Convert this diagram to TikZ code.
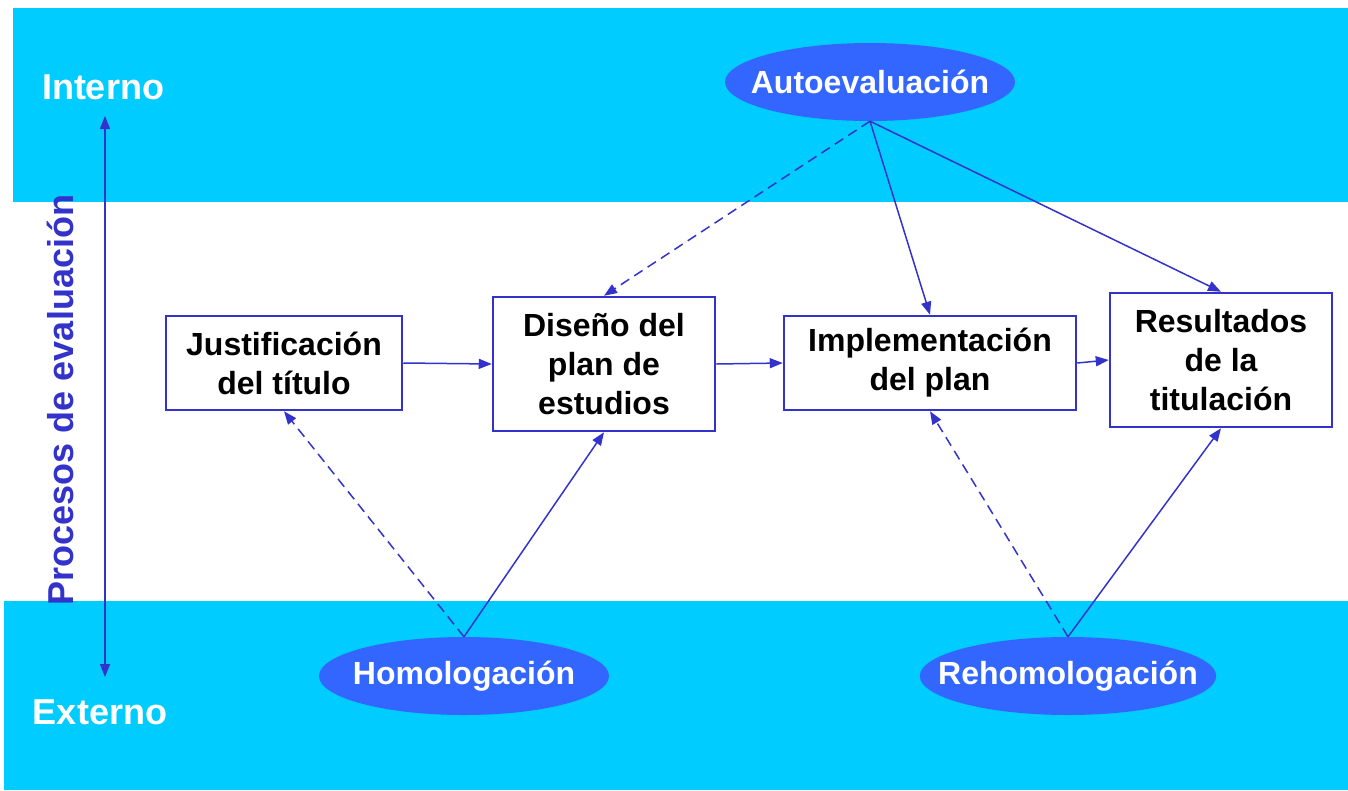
\documentclass[tikz,border=0pt]{standalone}
\usepackage{fontspec}
\setmainfont{Liberation Sans}
\usetikzlibrary{shapes.geometric,arrows.meta}
\definecolor{cielo}{RGB}{0,204,255}
\definecolor{azulelipse}{RGB}{51,102,255}
\definecolor{azullinea}{RGB}{51,51,204}
\tikzset{
  caja/.style={draw=azullinea,line width=2.5pt,fill=white,align=center,inner sep=0pt,
    font=\fontsize{32}{39}\selectfont\bfseries},
  proceso/.style={ellipse,fill=azulelipse,text=white,inner xsep=-25pt,inner ysep=0pt,
    minimum width=290pt,minimum height=78pt,font=\fontsize{32}{38}\selectfont\bfseries},
  flecha/.style={azullinea,line width=1.5pt,-{Triangle[length=13pt,width=10pt]}},
  discontinua/.style={flecha,dash pattern=on 10pt off 6pt},
  etiqueta/.style={text=white,font=\fontsize{36}{40}\selectfont\bfseries}
}
\begin{document}
\begin{tikzpicture}[x=1pt,y=-1pt]
      \useasboundingbox (0,0) rectangle (1348,790);
      % bandas
      \fill [cielo] (13,8) rectangle (1348,202);
      \fill [cielo] (4,601) rectangle (1348,790);
      % eje de la izquierda
      \node [etiqueta] (interno) at (103,87) {Interno};
      \node [etiqueta] (externo) at (100,712) {Externo};
      \coordinate (arriba) at (105,116);
      \coordinate (abajo) at (105,677);
      \draw [flecha,{Triangle[length=13pt,width=10pt]}-{Triangle[length=13pt,width=10pt]}] (arriba) -- (abajo);
      \node [rotate=90,text=azullinea,font=\fontsize{36}{40}\selectfont\bfseries] (procesos) at (60,400) {Procesos de evaluación};
      % cajas
      \node [caja,minimum width=236pt,minimum height=94pt] (justificacion) at (284,363) {Justificación\\del título};
      \node [caja,minimum width=222pt,minimum height=134pt] (diseno) at (604,364) {Diseño del\\plan de\\estudios};
      \node [caja,minimum width=292pt,minimum height=94pt] (implementacion) at (930,363) {Implementación\\del plan};
      \node [caja,minimum width=222pt,minimum height=134pt] (resultados) at (1221,360) {Resultados\\de la\\titulación};
      % elipses
      \node [proceso] (autoevaluacion) at (870,82) {Autoevaluación};
      \node [proceso] (homologacion) at (464,676) {Homologación};
      \node [proceso,minimum width=293pt] (rehomologacion) at (1068,676) {Rehomologación};
      % flechas
      \draw [flecha] (justificacion.east) -- (diseno.west);
      \draw [flecha] (diseno.east) -- (implementacion.west);
      \draw [flecha] (implementacion.east) -- (resultados.west);
      \draw [discontinua] (autoevaluacion.south) -- (diseno.north);
      \draw [flecha] (autoevaluacion.south) -- (implementacion.north);
      \draw [flecha] (autoevaluacion.south) -- (resultados.north);
      \draw [discontinua] (homologacion.north) -- (justificacion.south);
      \draw [flecha] (homologacion.north) -- (diseno.south);
      \draw [discontinua] (rehomologacion.north) -- (implementacion.south);
      \draw [flecha] (rehomologacion.north) -- (resultados.south);
    \end{tikzpicture}
\end{document}
